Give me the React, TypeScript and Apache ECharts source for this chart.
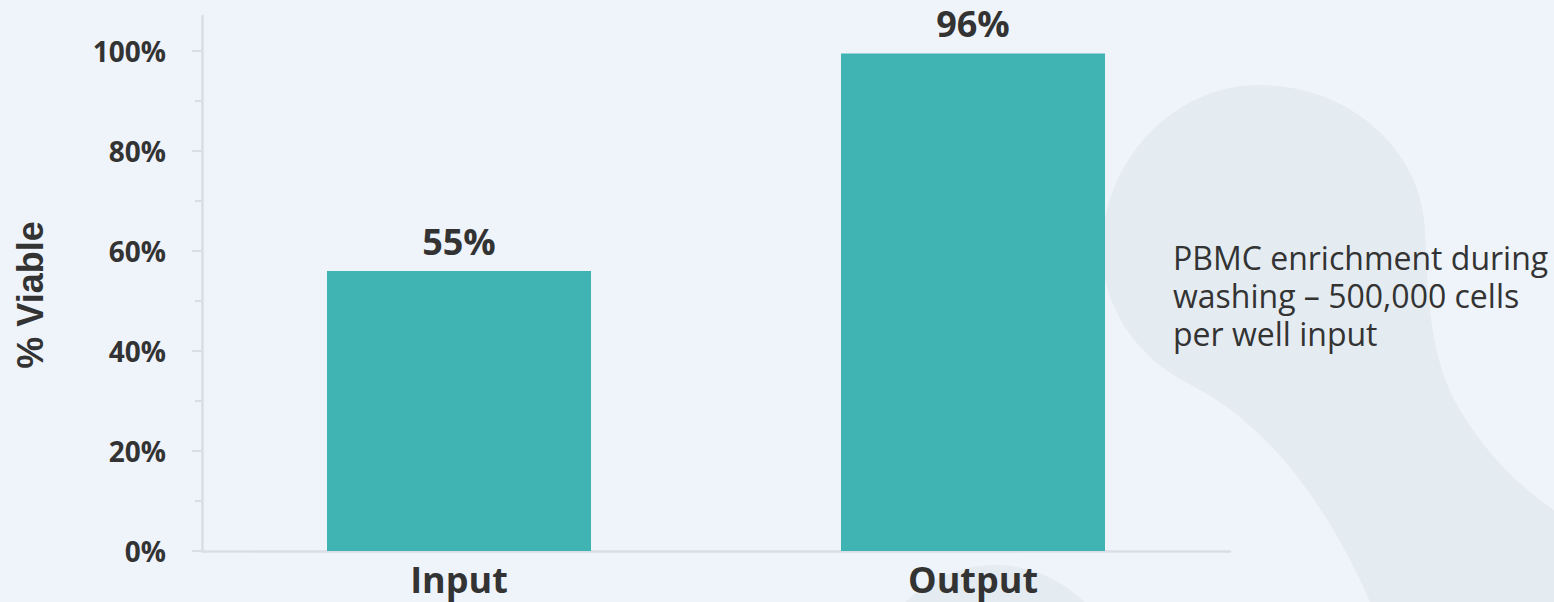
import React, { useEffect, useRef } from "react";
import * as echarts from "echarts";

const categories = ["Input", "Output"];
const viability = [56, 99.5];
const valueLabels = ["55%", "96%"];
const yMajorTicks = [0, 20, 40, 60, 80, 100];
const yMinorTicks = [10, 30, 50, 70, 90];
const yAxisTitle = "% Viable";
const noteLines = ["PBMC enrichment during", "washing – 500,000 cells", "per well input"];

const BLOB_D =
  "M1191 385 C1130 355 1102 300 1102 250 C1102 160 1175 85 1258 85 C1350 85 1422 150 1425 230 C1428 300 1430 360 1460 410 C1490 460 1525 490 1554 510 L1554 602 L1370 602 C1330 510 1270 425 1191 385 Z";

let registered = false;
function ensureShapes() {
  if (registered) return;
  echarts.graphic.registerShape("blob", echarts.graphic.extendPath(BLOB_D, {}));
  registered = true;
}

const TEXT = "#333333";
const AXIS = "#d9dee6";
const FONT = "'Open Sans', 'Noto Sans', sans-serif";

export default function App() {
  const ref = useRef<HTMLDivElement>(null);

  useEffect(() => {
    if (!ref.current) return;
    ensureShapes();
    const chart = echarts.init(ref.current, undefined, { renderer: "svg" });
    const option: any = {
      animation: false,
      backgroundColor: "#eff4fb",
      graphic: [
        {
          type: "blob",
          x: 0,
          y: 0,
          z: -10,
          silent: true,
          style: { fill: "#e4ecf2" },
        },
        {
          type: "ellipse",
          z: -10,
          silent: true,
          shape: { cx: 995, cy: 700, rx: 130, ry: 135 },
          style: { fill: "#e4ecf2" },
        },
        {
          type: "text",
          x: 30.5,
          y: 295,
          rotation: Math.PI / 2,
          style: {
            text: yAxisTitle,
            font: "bold 36px 'Liberation Sans', Arial, sans-serif",
            fill: TEXT,
            align: "center",
            verticalAlign: "middle",
          },
        },
        ...noteLines.map((line, i) => ({
          type: "text",
          x: 1173,
          y: 257 + i * 38,
          style: {
            text: line,
            font: `32px ${FONT}`,
            fill: TEXT,
            align: "left",
            verticalAlign: "middle",
          },
        })),
      ],
      grid: { left: 202, right: 324, top: 16, bottom: 51 },
      xAxis: {
        type: "category",
        data: categories,
        axisLine: { show: true, lineStyle: { color: AXIS, width: 2.5 } },
        axisTick: { show: false },
        axisLabel: {
          margin: 10,
          fontSize: 36,
          fontWeight: "bold",
          fontFamily: FONT,
          color: TEXT,
        },
        splitLine: { show: false },
      },
      yAxis: [
        {
          type: "value",
          position: "left",
          min: 0,
          max: 107,
          interval: 20,
          axisLine: { show: true, lineStyle: { color: AXIS, width: 2.5 } },
          axisTick: {
            show: true,
            customValues: yMajorTicks,
            length: 10,
            lineStyle: { color: AXIS, width: 2 },
          },
          axisLabel: {
            customValues: yMajorTicks,
            formatter: "{value}%",
            margin: 36,
            fontSize: 28,
            fontWeight: "bold",
            fontFamily: FONT,
            color: TEXT,
          },
          splitLine: { show: false },
        },
        {
          type: "value",
          position: "left",
          offset: 0,
          min: 0,
          max: 107,
          interval: 20,
          axisLine: { show: false },
          axisTick: {
            show: true,
            customValues: yMinorTicks,
            length: 7,
            lineStyle: { color: AXIS, width: 2 },
          },
          axisLabel: { show: false },
          splitLine: { show: false },
        },
      ],
      series: [
        {
          type: "bar",
          data: viability,
          barWidth: 264,
          itemStyle: { color: "#40b3b3" },
          label: {
            show: true,
            position: "top",
            distance: 12,
            formatter: (p: any) => valueLabels[p.dataIndex],
            fontSize: 36,
            fontWeight: "bold",
            fontFamily: FONT,
            color: TEXT,
          },
        },
      ],
    };
    chart.setOption(option);
    return () => chart.dispose();
  }, []);

  return (
    <div
      ref={ref}
      style={{ position: "fixed", left: 0, top: 0, width: 1554, height: 602 }}
    />
  );
}
